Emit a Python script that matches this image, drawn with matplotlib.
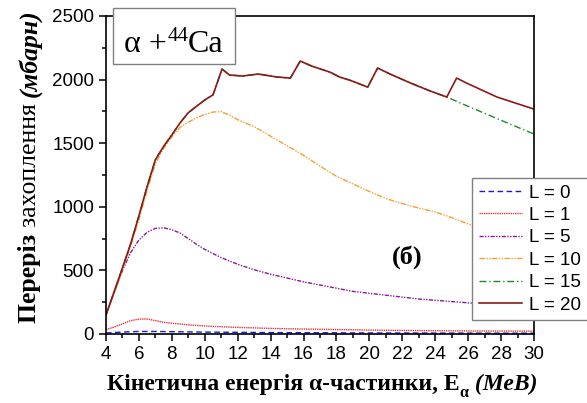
import matplotlib
matplotlib.use("Agg")
import matplotlib.pyplot as plt
from matplotlib.ticker import MultipleLocator
from matplotlib.patches import Rectangle

# ---- data ----
E20 = [4, 4.5, 5, 5.5, 6, 6.5, 7, 7.5, 8, 8.5, 9, 9.5, 10, 10.5, 11.05, 11.5, 12.3,
       13.25, 14.4, 15.2, 15.8, 16.5, 17.6, 18.2, 18.8, 19.9, 20.5, 21.25, 22.5,
       23.7, 24.7, 25.3, 25.9, 27.75, 30]
L20 = [150, 335, 520, 710, 930, 1160, 1370, 1475, 1565, 1660, 1740, 1790, 1840, 1880,
       2083, 2036, 2028, 2044, 2020, 2012, 2146, 2106, 2059, 2020, 1996, 1941, 2091,
       2044, 1973, 1910, 1863, 2012, 1973, 1863, 1768]

E15 = [4, 4.5, 5, 5.5, 6, 6.5, 7, 7.5, 8, 8.5, 9, 9.5, 10, 10.5, 11.05, 11.5, 12.3,
       13.25, 14.4, 15.2, 15.8, 16.5, 17.6, 18.2, 18.8, 19.9, 20.5, 21.25, 22.5,
       23.7, 24.7, 26, 28, 30]
L15 = [150, 335, 520, 710, 930, 1160, 1370, 1475, 1565, 1660, 1740, 1790, 1840, 1880,
       2083, 2036, 2028, 2044, 2020, 2012, 2146, 2106, 2059, 2020, 1996, 1941, 2091,
       2044, 1973, 1910, 1863, 1790, 1680, 1572]

E10 = [4, 4.5, 5, 5.5, 6, 6.5, 7, 7.5, 8, 8.5, 9, 9.5, 10, 10.5, 11, 11.5, 12, 13, 14,
       15, 16, 17, 18, 19, 20, 21, 22, 23, 24, 25, 26, 27, 28, 29, 30]
L10 = [150, 320, 500, 690, 900, 1130, 1340, 1460, 1550, 1625, 1665, 1700, 1725, 1745,
       1748, 1721, 1685, 1630, 1555, 1480, 1405, 1320, 1240, 1180, 1120, 1065, 1025,
       990, 960, 915, 865, 825, 790, 760, 730]

E5 = [4, 4.5, 5, 5.5, 6, 6.5, 7, 7.5, 8, 8.5, 9, 9.5, 10, 11, 12, 13, 14, 15, 16, 17,
      18, 19, 20, 21, 22, 23, 24, 25, 26, 27, 28, 29, 30]
L5 = [150, 330, 500, 640, 740, 800, 830, 835, 820, 794, 750, 705, 665, 600, 548, 505,
      470, 440, 410, 385, 360, 335, 320, 305, 290, 275, 265, 255, 245, 237, 229, 222, 215]

E1 = [4, 4.5, 5, 5.5, 6, 6.5, 7, 7.5, 8, 9, 10, 11, 12, 13, 14, 15, 16, 18, 20, 22,
      24, 26, 28, 30]
L1 = [35, 55, 80, 105, 117, 118, 105, 92, 85, 72, 63, 57, 52, 48, 44, 41, 39, 35, 31,
      28, 26, 24, 23, 22]

E0 = [4, 5, 6, 7, 8, 10, 12, 14, 16, 20, 25, 30]
L0 = [8, 15, 20, 20, 18, 15, 13, 11, 10, 8, 7, 6]

labels = ["L = 0", "L = 1", "L = 5", "L = 10", "L = 15", "L = 20"]
xticks = list(range(4, 31, 2))
yticks = [0, 500, 1000, 1500, 2000, 2500]

# ---- figure ----
W, H = 587, 403
fig = plt.figure(figsize=(W / 100, H / 100), dpi=100)
ax = fig.add_axes([106 / W, 1 - 334 / H, (534 - 106) / W, (334 - 16) / H])

series = [
    (E0, L0, dict(color="#1515e6", ls=(0, (4, 2.5)), lw=1.0)),
    (E1, L1, dict(color="#e8303a", ls=(0, (1, 0.6)), lw=1.0)),
    (E5, L5, dict(color="#8a1a9a", ls=(0, (3, 1, 1, 1, 1, 1)), lw=1.0)),
    (E10, L10, dict(color="#f5a030", ls=(0, (4, 1, 1, 1, 1, 1)), lw=1.0)),
    (E15, L15, dict(color="#22882a", ls=(0, (5, 2, 1, 2)), lw=1.0)),
    (E20, L20, dict(color="#8b1a1a", ls="-", lw=1.2)),
]
handles = []
for (x, y, st), lab in zip(series, labels):
    h, = ax.plot(x, y, label=lab, **st)
    handles.append(h)

ax.set_xlim(4, 30)
ax.set_ylim(0, 2500)
ax.set_xticks(xticks)
ax.set_yticks(yticks)
ax.xaxis.set_minor_locator(MultipleLocator(1))
ax.yaxis.set_minor_locator(MultipleLocator(250))
ax.tick_params(which="both", direction="out", top=False, right=False, width=1.1)
ax.tick_params(which="major", length=5, labelsize=13.5)
ax.tick_params(which="minor", length=3)
for lbl in ax.get_xticklabels() + ax.get_yticklabels():
    lbl.set_fontfamily("Liberation Sans")
for s in ax.spines.values():
    s.set_linewidth(1.2)

leg = fig.legend(handles=handles, loc="upper left",
                 bbox_to_anchor=(472 / W, 1 - 178 / H), borderaxespad=0,
                 fancybox=False, edgecolor="#808080", framealpha=1,
                 prop=dict(family="Liberation Sans", size=13.5),
                 handlelength=2.3, labelspacing=0.28, handletextpad=0.4,
                 borderpad=0.35)
leg.get_frame().set_linewidth(1.0)

ax.text(22.3, 605, "(б)", ha="center", va="center", fontsize=19,
        family="Liberation Serif", fontweight="bold")

# title box
fig.add_artist(Rectangle((113 / W, 1 - 64 / H), (235 - 113) / W, (64 - 8) / H,
                         transform=fig.transFigure, fc="white", ec="#808080",
                         lw=1.0, zorder=5))

fig.canvas.draw()
renderer = fig.canvas.get_renderer()


def place(pieces, start, center, vertical=False, family="Liberation Serif"):
    texts = []
    for txt, props, dy in pieces:
        t = fig.text(0, 0, txt, family=family,
                     rotation=90 if vertical else 0, rotation_mode="anchor",
                     ha="left", va="baseline", zorder=6, **props)
        texts.append(t)
    sizes = []
    for t in texts:
        bb = t.get_window_extent(renderer)
        sizes.append(bb.height if vertical else bb.width)
    total = sum(sizes)
    pos = center - total / 2
    for t, sz, (txt, props, dy) in zip(texts, sizes, pieces):
        if vertical:
            t.set_position(((start - dy) / W, pos / H))
        else:
            t.set_position((pos / W, (start + dy) / H))
        pos += sz
    return texts


place([("α +", dict(fontsize=23), 0),
       ("44", dict(fontsize=15), 11),
       ("Ca", dict(fontsize=23), 0)],
      start=H - 52, center=174)

place([("Переріз ", dict(fontsize=18.5, fontweight="bold"), 0),
       ("захоплення ", dict(fontsize=18.5), 0),
       ("(мбарн)", dict(fontsize=18.5, fontweight="bold", fontstyle="italic"), 0)],
      start=36, center=(H - 166), vertical=True)

place([("Кінетична енергія α-частинки, E", dict(fontsize=17, fontweight="bold"), 0),
       ("α", dict(fontsize=11.5, fontweight="bold"), -7),
       (" (МеВ)", dict(fontsize=17, fontweight="bold", fontstyle="italic"), 0)],
      start=H - 390, center=322)

fig.savefig("out.png", dpi=100)
